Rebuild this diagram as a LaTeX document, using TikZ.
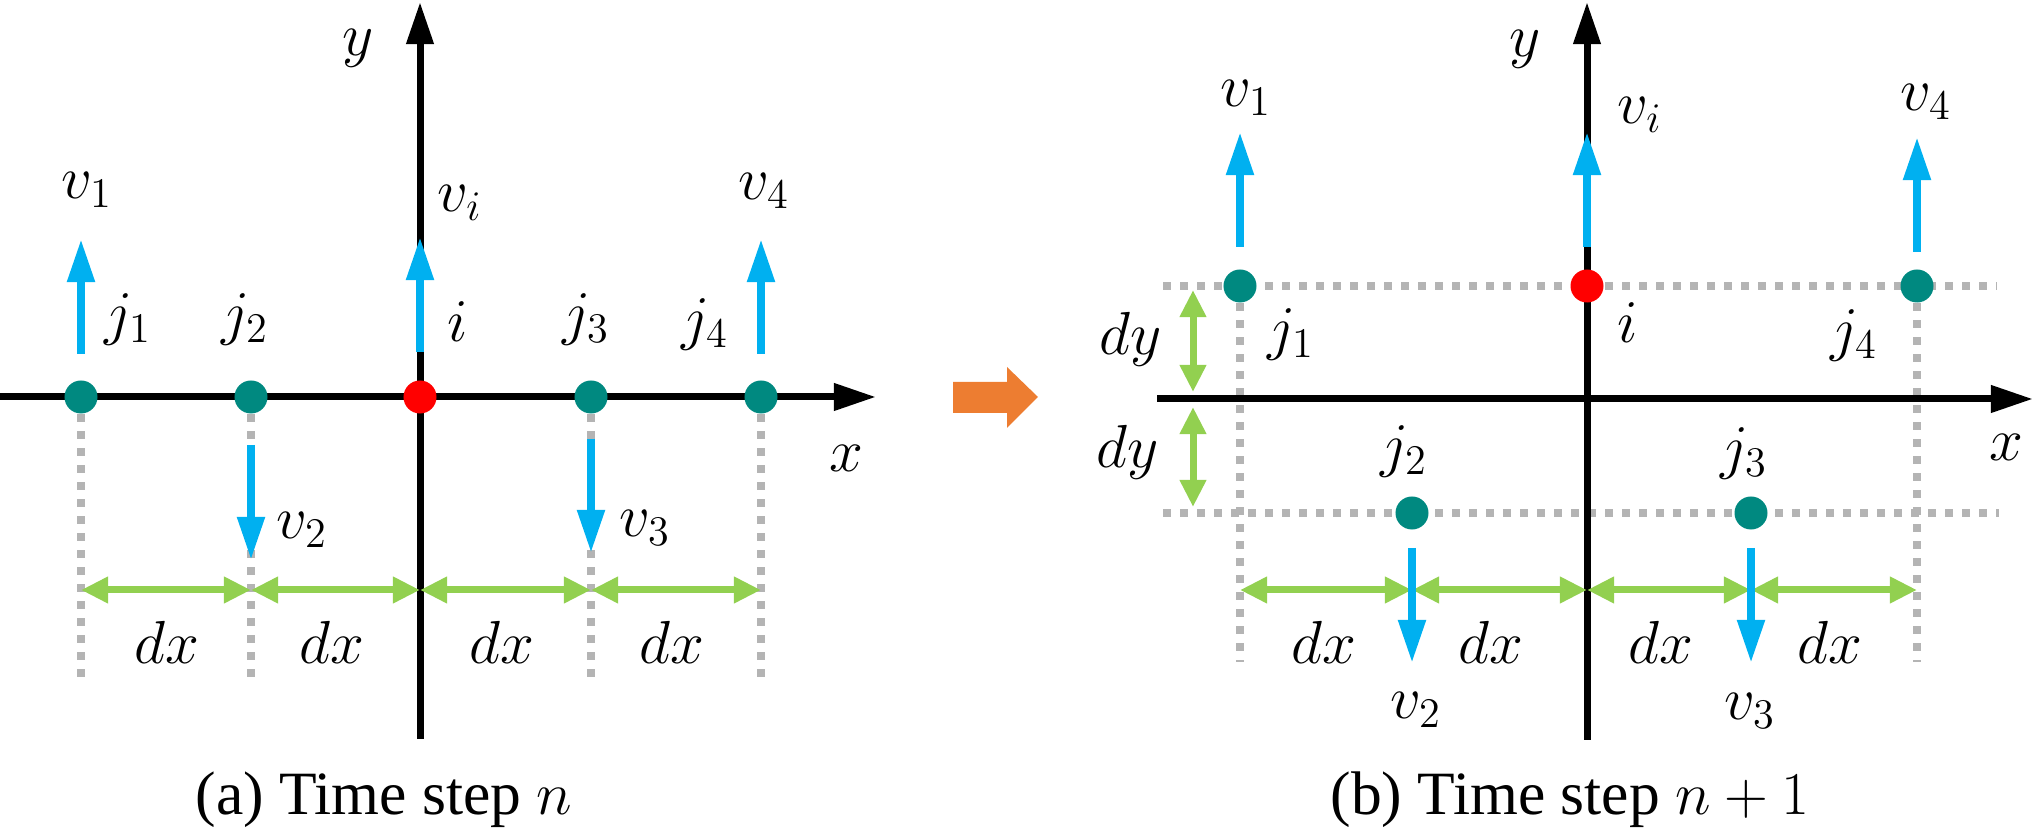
\documentclass[tikz,border=0pt]{standalone}
\usepackage{fontspec}
\setmainfont{Liberation Serif}
\newfontfamily\capfont{Liberation Serif}
\usetikzlibrary{arrows.meta}
\definecolor{ptteal}{RGB}{0,137,128}
\definecolor{velblue}{RGB}{0,176,240}
\definecolor{distgreen}{RGB}{146,208,80}
\definecolor{gridgrey}{RGB}{180,180,180}
\definecolor{stepor}{RGB}{237,125,49}
\pgfdeclarelayer{lgrid}
\pgfdeclarelayer{laxis}
\pgfdeclarelayer{ldist}
\pgfdeclarelayer{lvel}
\pgfsetlayers{lgrid,laxis,ldist,lvel,main}
\begin{document}
\begin{tikzpicture}[x=0.01cm,y=-0.01cm,
  axis/.style={line width=0.07cm, -{Triangle[length=0.42cm,width=0.26cm]}},
  gridline/.style={draw=gridgrey, line width=0.08cm, dash pattern=on 0.08cm off 0.09cm},
  vel/.style={draw=velblue, line width=0.08cm, -{Triangle[length=0.43cm,width=0.26cm]}, color=velblue},
  dist/.style={draw=distgreen, color=distgreen, line width=0.07cm, {Triangle[length=0.27cm,width=0.25cm]}-{Triangle[length=0.27cm,width=0.25cm]}},
  pt/.style={circle, fill=ptteal, inner sep=0pt, minimum size=0.33cm},
  ctr/.style={circle, fill=red, inner sep=0pt, minimum size=0.33cm},
  lab/.style={inner sep=0pt, font=\fontsize{18}{20}\selectfont},
  captext/.style={inner sep=0pt, anchor=base, font=\capfont\fontsize{17.5}{20}\selectfont}]
\useasboundingbox (0,0) rectangle (2035,831);

% ---------------- left panel (a) ----------------
\node[pt]  (Lj1) at (81,397) {};
\node[pt]  (Lj2) at (251,397) {};
\node[ctr] (Li)  at (420,397) {};
\node[pt]  (Lj3) at (591,397) {};
\node[pt]  (Lj4) at (761,397) {};

\coordinate (LxS) at (0,397);   \coordinate (LxE) at (876,397);
\coordinate (LyS) at (420,739); \coordinate (LyE) at (420,2);
\coordinate (Ld1) at (81,682);  \coordinate (Ld2) at (251,682);
\coordinate (Ld3) at (591,682); \coordinate (Ld4) at (761,682);
\coordinate (Lv1s) at (81,354);  \coordinate (Lv1e) at (81,239);
\coordinate (Lvis) at (420,352); \coordinate (Lvie) at (420,237);
\coordinate (Lv4s) at (761,354); \coordinate (Lv4e) at (761,239);
\coordinate (Lv2s) at (251,445); \coordinate (Lv2e) at (251,560);
\coordinate (Lv3s) at (591,439); \coordinate (Lv3e) at (591,553);
\coordinate (Lg0) at (81,590);  \coordinate (Lg1) at (251,590);
\coordinate (Lg2) at (420,590); \coordinate (Lg3) at (591,590);
\coordinate (Lg4) at (761,590);

\begin{pgfonlayer}{lgrid}
  \draw[gridline] (Lj1.center) -- (Ld1);
  \draw[gridline] (Lj2.center) -- (Ld2);
  \draw[gridline] (Lj3.center) -- (Ld3);
  \draw[gridline] (Lj4.center) -- (Ld4);
\end{pgfonlayer}
\begin{pgfonlayer}{laxis}
  \draw[axis] (LxS) -- (LxE);
  \draw[axis] (LyS) -- (LyE);
\end{pgfonlayer}
\begin{pgfonlayer}{ldist}
  \draw[dist] (Lg0) -- (Lg1);
  \draw[dist] (Lg1) -- (Lg2);
  \draw[dist] (Lg2) -- (Lg3);
  \draw[dist] (Lg3) -- (Lg4);
\end{pgfonlayer}
\begin{pgfonlayer}{lvel}
  \draw[vel] (Lv1s) -- (Lv1e);
  \draw[vel] (Lvis) -- (Lvie);
  \draw[vel] (Lv4s) -- (Lv4e);
  \draw[vel] (Lv2s) -- (Lv2e);
  \draw[vel] (Lv3s) -- (Lv3e);
\end{pgfonlayer}

\node[lab] (Lylab) at (358,48) {$y$};
\node[lab] (Lxlab) at (846,458) {$x$};
\node[lab] (Lv1lab) at (87,190) {$v_1$};
\node[lab] (Lvilab) at (460,203) {$v_i$};
\node[lab] (Lv4lab) at (764,191) {$v_4$};
\node[lab] (Lj1lab) at (128,319) {$j_1$};
\node[lab] (Lj2lab) at (245,319) {$j_2$};
\node[lab] (Lilab)  at (458,322) {$i$};
\node[lab] (Lj3lab) at (586,319) {$j_3$};
\node[lab] (Lj4lab) at (705,324) {$j_4$};
\node[lab] (Lv2lab) at (302,530) {$v_2$};
\node[lab] (Lv3lab) at (645,528) {$v_3$};
\node[lab] (Ldx1) at (167,642) {$dx$};
\node[lab] (Ldx2) at (332,642) {$dx$};
\node[lab] (Ldx3) at (502,642) {$dx$};
\node[lab] (Ldx4) at (672,642) {$dx$};
\node[captext] (Lcap) at (384,815) {(a) Time step $n$};

% ---------------- orange step arrow ----------------
\fill[stepor] (953,382) -- (1007,382) -- (1007,367) -- (1038,397) -- (1007,428) -- (1007,413) -- (953,413) -- cycle;

% ---------------- right panel (b) ----------------
\node[pt]  (Rj1) at (1240,286) {};
\node[ctr] (Ri)  at (1587,286) {};
\node[pt]  (Rj4) at (1917,286) {};
\node[pt]  (Rj2) at (1412,513) {};
\node[pt]  (Rj3) at (1751,513) {};

\coordinate (RxS) at (1157,399); \coordinate (RxE) at (2033,399);
\coordinate (RyS) at (1587,740); \coordinate (RyE) at (1587,2);
\coordinate (Rt0) at (1163,286); \coordinate (Rt1) at (1997,286);
\coordinate (Rb0) at (1163,513); \coordinate (Rb1) at (1999,513);
\coordinate (Rd1) at (1240,662); \coordinate (Rd4) at (1917,662);
\coordinate (Rv1s) at (1240,247); \coordinate (Rv1e) at (1240,132);
\coordinate (Rvis) at (1587,247); \coordinate (Rvie) at (1587,132);
\coordinate (Rv4s) at (1917,252); \coordinate (Rv4e) at (1917,137);
\coordinate (Rv2s) at (1412,548); \coordinate (Rv2e) at (1412,663);
\coordinate (Rv3s) at (1751,548); \coordinate (Rv3e) at (1751,663);
\coordinate (Rdy0) at (1193,290); \coordinate (Rdy1) at (1193,392);
\coordinate (Rdy2) at (1193,407); \coordinate (Rdy3) at (1193,507);
\coordinate (Rg0) at (1240,590); \coordinate (Rg1) at (1412,590);
\coordinate (Rg2) at (1587,590); \coordinate (Rg3) at (1751,590);
\coordinate (Rg4) at (1917,590);

\begin{pgfonlayer}{lgrid}
  \draw[gridline] (Rt0) -- (Rt1);
  \draw[gridline] (Rb0) -- (Rb1);
  \draw[gridline] (Rj1.center) -- (Rd1);
  \draw[gridline] (Rj4.center) -- (Rd4);
\end{pgfonlayer}
\begin{pgfonlayer}{laxis}
  \draw[axis] (RxS) -- (RxE);
  \draw[axis] (RyS) -- (RyE);
\end{pgfonlayer}
\begin{pgfonlayer}{ldist}
  \draw[dist] (Rg0) -- (Rg1);
  \draw[dist] (Rg1) -- (Rg2);
  \draw[dist] (Rg2) -- (Rg3);
  \draw[dist] (Rg3) -- (Rg4);
  \draw[dist] (Rdy0) -- (Rdy1);
  \draw[dist] (Rdy2) -- (Rdy3);
\end{pgfonlayer}
\begin{pgfonlayer}{lvel}
  \draw[vel] (Rv1s) -- (Rv1e);
  \draw[vel] (Rvis) -- (Rvie);
  \draw[vel] (Rv4s) -- (Rv4e);
  \draw[vel] (Rv2s) -- (Rv2e);
  \draw[vel] (Rv3s) -- (Rv3e);
\end{pgfonlayer}

\node[lab] (Rylab) at (1525,49) {$y$};
\node[lab] (Rxlab) at (2006,447) {$x$};
\node[lab] (Rv1lab) at (1246,98) {$v_1$};
\node[lab] (Rvilab) at (1640,115) {$v_i$};
\node[lab] (Rv4lab) at (1926,102) {$v_4$};
\node[lab] (Rj1lab) at (1291,334) {$j_1$};
\node[lab] (Rilab)  at (1628,323) {$i$};
\node[lab] (Rj4lab) at (1854,335) {$j_4$};
\node[lab] (Rdylab1) at (1131,339) {$dy$};
\node[lab] (Rdylab2) at (1128,452) {$dy$};
\node[lab] (Rj2lab) at (1404,451) {$j_2$};
\node[lab] (Rj3lab) at (1744,453) {$j_3$};
\node[lab] (Rdx1) at (1324,642) {$dx$};
\node[lab] (Rdx2) at (1491,642) {$dx$};
\node[lab] (Rdx3) at (1661,642) {$dx$};
\node[lab] (Rdx4) at (1830,642) {$dx$};
\node[lab] (Rv2lab) at (1416,710) {$v_2$};
\node[lab] (Rv3lab) at (1750,711) {$v_3$};
\node[captext] (Rcap) at (1570,815) {(b) Time step $n+1$};
\end{tikzpicture}
\end{document}
